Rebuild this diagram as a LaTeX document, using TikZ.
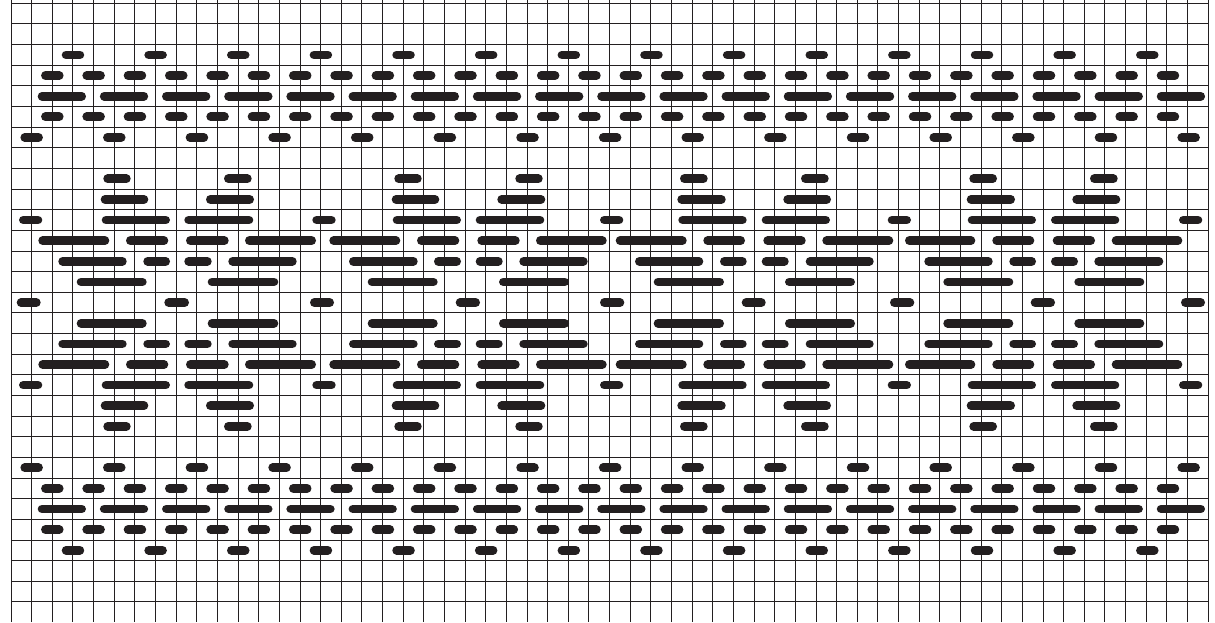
\documentclass[tikz,border=0pt]{standalone}
\usepackage{tikz}
\definecolor{ink}{HTML}{231F20}

% one row of slip bars: rows, list of left/right ends
\newcommand{\slips}[2]{%
  \foreach \r in {#1}
    \foreach \a/\b in {#2}
      \draw[stitch] (\a+4.35,13.62+20.64*\r) -- (\b-4.35,13.62+20.64*\r);}

\begin{document}
\begin{tikzpicture}[
    x=1pt, y=-1pt,
    gridline/.style={draw=ink, line width=0.9pt},
    stitch/.style={draw=ink, line width=8.7pt, line cap=round}
]
\useasboundingbox (0,0) rectangle (1215,622);

% Grid
\foreach \i in {0,...,58}
    \draw[gridline] (11+20.64*\i,0) -- (11+20.64*\i,622);
\foreach \j in {0,...,29}
    \draw[gridline] (11,3.3+20.64*\j) -- (1208.1,3.3+20.64*\j);

% Top and bottom borders
\foreach \r in {2,26}
    \foreach \g in {3,7,...,55}
        \draw[stitch] (11+20.66*\g-6.9,13.62+20.64*\r) -- ++(13.8,0);
\foreach \r in {3,5,23,25}
    \foreach \g in {2,4,...,56}
        \draw[stitch] (11+20.66*\g-6.9,13.62+20.64*\r) -- ++(13.8,0);
\foreach \r in {6,22}
    \foreach \g in {1,5,...,57}
        \draw[stitch] (11+20.66*\g-6.9,13.62+20.64*\r) -- ++(13.8,0);
\foreach \r in {4,24}
    \foreach \k in {0,...,18}
        \draw[stitch] (42.05+62.17*\k,13.62+20.64*\r) -- ++(39.6,0);

% Middle band (mirrored about row 14)
\slips{8,20}{103.3/130.7, 224/251.7, 394.3/421.7, 515.3/542.7, 680/707.7,
  801/828.7, 969.3/997, 1090/1117.7}
\slips{9,19}{100.7/148.3, 206/254, 391.7/439.3, 497.3/545.3, 677.3/725.7,
  783.3/831, 966.7/1015, 1072.3/1120.3}
\slips{10,18}{19/42.3, 101.7/170, 184.3/253.3, 312.3/335.7, 392.7/461,
  475.7/544.3, 600/623.3, 678.3/746.7, 761.7/830, 887.7/911, 967.7/1036,
  1051/1119.3, 1179/1202.3}
\slips{11,17}{38.3/109.3, 126/168.3, 186/228.7, 245/316, 329.3/400.3,
  417/459.3, 477.3/519.7, 536/606.7, 615.7/686.7, 703.3/745, 763.3/805.7,
  822.3/893.3, 905/975.3, 992.3/1034.3, 1052.7/1095, 1111.7/1182.3}
\slips{12,16}{58.3/126.7, 143.3/170, 184.3/211.7, 228.3/296.7, 349/417.7,
  434/461, 475.7/502.7, 519.3/587.7, 635/703.3, 720/746.7, 761.7/788.7,
  805.7/873.7, 924.3/992.7, 1009.3/1036, 1051/1078, 1094.3/1163.3}
\slips{13,15}{76.7/146.7, 207.7/278.3, 367.7/437.7, 499/569, 653.7/724,
  785/855, 943.3/1013.3, 1074.3/1144.3}
\slips{14}{16.7/40.7, 164.3/189, 310/334, 455.7/480, 600/624.3, 741.7/765.7,
  890/914.3, 1030.7/1055, 1181/1205}

\end{tikzpicture}
\end{document}
